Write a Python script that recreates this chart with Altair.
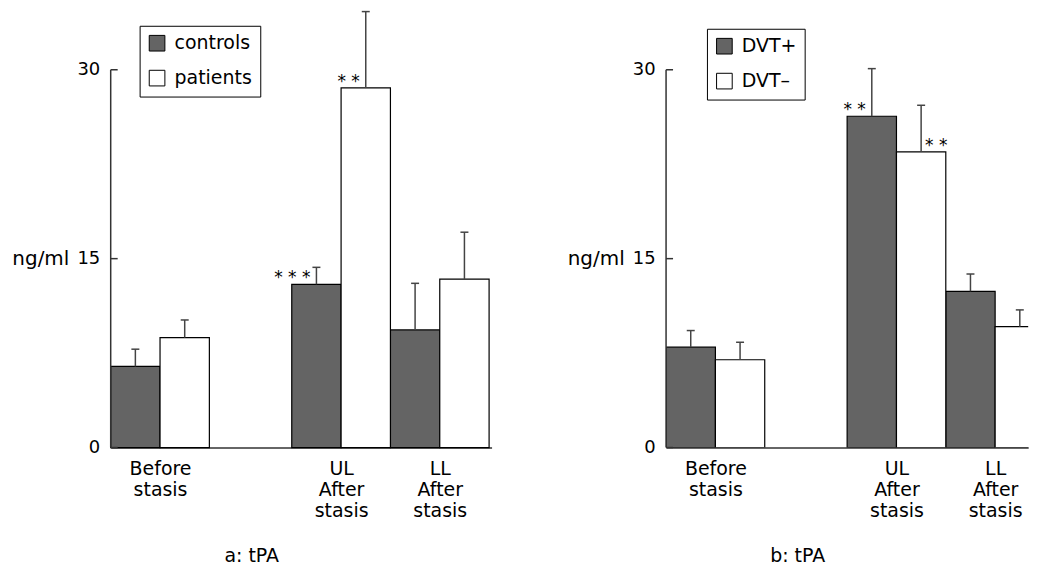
import altair as alt
import pandas as pd

# ---------------- data ----------------
groups = ["Before\nstasis", "UL\nAfter\nstasis", "LL\nAfter\nstasis"]
group_pos = [0.0, 3.67, 5.67]      # slot of each group on the x scale (bar widths = 1)
y_ticks = [0, 15, 30]

a_series = ["controls", "patients"]
a_controls = [6.44, 12.96, 9.34]
a_controls_err = [7.81, 14.31, 13.04]
a_patients = [8.73, 28.56, 13.38]
a_patients_err = [10.13, 34.62, 17.10]
a_controls_sig = ["", "* * *", ""]
a_patients_sig = ["", "* *", ""]
a_sig_side = ["left", "left"]

b_series = ["DVT+", "DVT\u2013"]
b_plus = [7.97, 26.31, 12.40]
b_plus_err = [9.29, 30.09, 13.78]
b_minus = [6.97, 23.48, 9.60]
b_minus_err = [8.36, 27.18, 10.93]
b_plus_sig = ["", "* *", ""]
b_minus_sig = ["", "* *", ""]
b_sig_side = ["left", "right"]

FONT = "DejaVu Sans"
YMAX = 34.84
H = 440
UNIT = 49.48


def build_df(series, vals, errs, sigs, sides):
    rows = []
    for si, name in enumerate(series):
        for gi, g in enumerate(groups):
            start = group_pos[gi] + si
            rows.append(dict(series=name, group=g, x0=start, x1=start + 1,
                             xc=start + 0.5, v=vals[si][gi], e=errs[si][gi],
                             sig=sigs[si][gi], side=sides[si]))
    return pd.DataFrame(rows)


def label_expr():
    centers = [p + 1 for p in group_pos]
    parts = []
    for g in groups:
        parts.append("[" + ",".join("'" + s + "'" for s in g.split("\n")) + "]")
    expr = parts[-1]
    for i in range(len(groups) - 2, -1, -1):
        thr = (centers[i] + centers[i + 1]) / 2
        expr = f"datum.value < {thr} ? {parts[i]} : ({expr})"
    return centers, expr


def panel(series, vals, errs, sigs, sides, xmax, legend_x, legend_y, title, clip):
    df = build_df(series, vals, errs, sigs, sides)
    width = xmax * UNIT
    xs = alt.Scale(domain=[0, xmax], nice=False, zero=False)
    ys = alt.Scale(domain=[0, YMAX], nice=False, zero=True)
    centers, expr = label_expr()
    xaxis = alt.Axis(values=centers, labelExpr=expr, ticks=False, grid=False,
                     domainColor="#333333", domainWidth=1.5, labelFontSize=19,
                     labelLineHeight=21, labelPadding=12, title=None,
                     labelFlush=False, labelOverlap=False, labelColor="black",
                     labelFont=FONT)
    yaxis = alt.Axis(values=y_ticks, ticks=False, domain=False, grid=False,
                     labelFontSize=18, labelPadding=11, labelColor="black",
                     labelFont=FONT, title="ng/ml", titleAngle=0,
                     titleAlign="right", titleBaseline="middle", titleX=-42,
                     titleY=H - 15 / YMAX * H, titleFontSize=20,
                     titleFontWeight="normal", titleColor="black",
                     titleFont=FONT)
    X = lambda f: alt.X(f, scale=xs, axis=xaxis)
    Y = lambda f: alt.Y(f, scale=ys, axis=yaxis)
    base = alt.Chart(df)
    bars = base.mark_bar(stroke="black", strokeWidth=1.2, clip=clip).encode(
        x=X("x0:Q"),
        x2="x1:Q",
        y=Y("v:Q"),
        y2=alt.datum(0),
        color=alt.Color("series:N",
                        scale=alt.Scale(domain=series, range=["#646464", "#ffffff"]),
                        legend=alt.Legend(title=None, orient="none",
                                          legendX=legend_x, legendY=legend_y,
                                          symbolType="square", symbolSize=246,
                                          symbolStrokeColor="black",
                                          symbolStrokeWidth=1, labelFontSize=19,
                                          labelFont=FONT, labelColor="black",
                                          labelOffset=8, rowPadding=14, padding=8,
                                          strokeColor="black", fillColor="white")),
    )
    err = base.mark_rule(color="#444444", strokeWidth=1.5).encode(
        x=X("xc:Q"), y=Y("v:Q"), y2="e:Q")
    cap = base.mark_rule(color="#444444", strokeWidth=1.5, xOffset=-4, x2Offset=4).encode(
        x=X("xc:Q"), x2="xc:Q", y=Y("e:Q"))
    star_l = base.transform_filter("datum.side == 'left'").mark_text(
        align="right", baseline="alphabetic", dx=-6, dy=-1, fontSize=17,
        font=FONT, color="black").encode(x=X("xc:Q"), y=Y("v:Q"), text="sig:N")
    star_r = base.transform_filter("datum.side == 'right'").mark_text(
        align="left", baseline="alphabetic", dx=4, dy=-1, fontSize=17,
        font=FONT, color="black").encode(x=X("xc:Q"), y=Y("v:Q"), text="sig:N")
    axis_line = alt.Chart(pd.DataFrame({"lo": [y_ticks[0]], "hi": [y_ticks[-1]]})).mark_rule(
        color="#333333", strokeWidth=1.5).encode(
        x=alt.value(0), y=Y("lo:Q"), y2="hi:Q")
    tick_lines = alt.Chart(pd.DataFrame({"t": y_ticks})).mark_rule(
        color="#333333", strokeWidth=1.5).encode(
        x=alt.value(0), x2=alt.value(7), y=Y("t:Q"))
    return alt.layer(bars, err, cap, star_l, star_r, axis_line, tick_lines).properties(
        width=width, height=H,
        title=alt.TitleParams(title, orient="bottom", anchor="middle", frame="bounds",
                              fontSize=19, fontWeight="normal", font=FONT,
                              color="black", offset=27))


pa = panel(a_series, [a_controls, a_patients], [a_controls_err, a_patients_err],
           [a_controls_sig, a_patients_sig], a_sig_side, 7.72, 29, 17, "a: tPA", False)
pb = panel(b_series, [b_plus, b_minus], [b_plus_err, b_minus_err],
           [b_plus_sig, b_minus_sig], b_sig_side, 7.34, 41, 20, "b: tPA", True)

chart = alt.hconcat(pa, pb, spacing=75).resolve_scale(
    x="independent", y="independent", color="independent").properties(
    padding={"left": 3, "top": 0, "right": 0, "bottom": 0}
).configure_view(stroke=None)

chart.save("out.html", embed_options={"renderer": "svg", "actions": False})
